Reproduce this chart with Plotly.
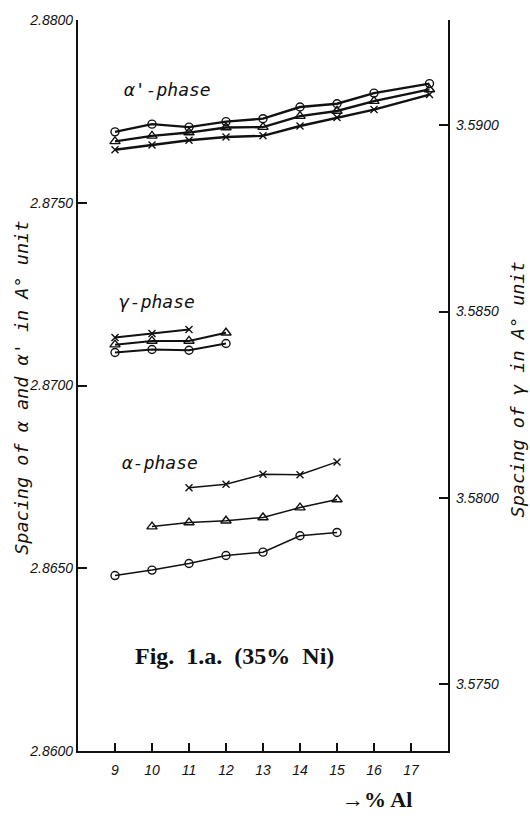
import plotly.graph_objects as go

# ---- data ----
al_ap = [9, 10, 11, 12, 13, 14, 15, 16, 17.5]
ap_circle = [2.87694, 2.87715, 2.87707, 2.87722, 2.87730, 2.87762, 2.87771, 2.87800, 2.87826]
ap_tri = [2.87668, 2.87683, 2.87692, 2.87706, 2.87707, 2.87737, 2.87751, 2.87778, 2.87810]
ap_cross = [2.87645, 2.87658, 2.87671, 2.87680, 2.87683, 2.87710, 2.87733, 2.87755, 2.87796]

al_g_cross = [9, 10, 11]
g_cross = [3.58430, 3.58441, 3.58452]
al_g_tri = [9, 10, 11, 12]
g_tri = [3.58411, 3.58421, 3.58421, 3.58443]
al_g_circle = [9, 10, 11, 12]
g_circle = [3.58390, 3.58398, 3.58396, 3.58414]

al_a_cross = [11, 12, 13, 14, 15]
a_cross = [2.86720, 2.86730, 2.86757, 2.86756, 2.86791]
al_a_tri = [10, 11, 12, 13, 14, 15]
a_tri = [2.86614, 2.86625, 2.86630, 2.86639, 2.86666, 2.86688]
al_a_circle = [9, 10, 11, 12, 13, 14, 15]
a_circle = [2.86480, 2.86495, 2.86513, 2.86535, 2.86544, 2.86589, 2.86598]

x_ticks = [9, 10, 11, 12, 13, 14, 15, 16, 17]
left_ticks = [2.86, 2.865, 2.87, 2.875, 2.88]
right_ticks = [3.575, 3.58, 3.585, 3.59]

INK = "#111111"
MK = {
    "circle": dict(symbol="circle-open", size=8),
    "tri": dict(symbol="triangle-up-open", size=9),
    "cross": dict(symbol="x-thin-open", size=7),
}

fig = go.Figure()


def add(xs, ys, kind, width, axis="y"):
    m = MK[kind]
    fig.add_trace(go.Scatter(
        x=xs, y=ys, mode="lines+markers", yaxis=axis,
        line=dict(color=INK, width=width),
        marker=dict(symbol=m["symbol"], size=m["size"], color=INK,
                    line=dict(color=INK, width=1.4)),
        showlegend=False, hoverinfo="x+y"))


add(al_ap, ap_circle, "circle", 2.4)
add(al_ap, ap_tri, "tri", 2.4)
add(al_ap, ap_cross, "cross", 2.4)
add(al_g_cross, g_cross, "cross", 2.0, "y2")
add(al_g_tri, g_tri, "tri", 2.0, "y2")
add(al_g_circle, g_circle, "circle", 2.0, "y2")
add(al_a_cross, a_cross, "cross", 1.5)
add(al_a_tri, a_tri, "tri", 1.5)
add(al_a_circle, a_circle, "circle", 1.5)

tickfont = dict(family="Liberation Sans", size=14, color=INK, style="italic")
mono = dict(family="DejaVu Sans Mono", size=18, color=INK, style="italic")

fig.update_layout(
    width=530, height=828,
    margin=dict(l=78, r=82, t=15, b=77),
    paper_bgcolor="white", plot_bgcolor="white",
    xaxis=dict(range=[8, 18], tickvals=x_ticks, ticktext=[str(v) for v in x_ticks],
               ticks="inside", ticklen=8, tickwidth=1.5, tickcolor=INK,
               showline=True, linecolor=INK, linewidth=2, showgrid=False,
               zeroline=False, tickfont=tickfont, ticklabelstandoff=5),
    yaxis=dict(range=[2.86, 2.88], tickvals=left_ticks, tickformat=".4f",
               ticks="inside", ticklen=9, tickwidth=1.5, tickcolor=INK,
               showline=True, linecolor=INK, linewidth=2.2, showgrid=False,
               zeroline=False, tickfont=tickfont),
    yaxis2=dict(range=[3.5732, 3.592827], tickvals=right_ticks, tickformat=".4f",
                overlaying="y", side="right", anchor="x",
                ticks="inside", ticklen=9, tickwidth=1.5, tickcolor=INK,
                showline=True, linecolor=INK, linewidth=2.2, showgrid=False,
                zeroline=False, tickfont=tickfont, ticklabelstandoff=3),
)

annots = [
    dict(text="α'-phase", x=0.119, y=0.905, xanchor="left", font=mono),
    dict(text="γ-phase", x=0.105, y=0.6155, xanchor="left", font=mono),
    dict(text="α-phase", x=0.1135, y=0.394, xanchor="left", font=mono),
    dict(text="Fig.  1.a.  (35%  Ni)", x=0.423, y=0.130, xanchor="center",
         font=dict(family="Liberation Serif", size=24, color=INK, weight="bold")),
    dict(text="→% Al", x=0.807, y=-0.0666, xanchor="center",
         font=dict(family="Liberation Serif", size=22, color=INK, weight="bold")),
    dict(text="Spacing of α and α' in A° unit", x=-0.151, y=0.497, textangle=-90,
         xanchor="center", font=dict(family="DejaVu Sans Mono", size=18.5, color=INK, style="italic")),
    dict(text="Spacing of γ in A° unit", x=1.1865, y=0.4946, textangle=-90,
         xanchor="center", font=dict(family="DejaVu Sans Mono", size=18.5, color=INK, style="italic")),
]
for a in annots:
    fig.add_annotation(xref="paper", yref="paper", showarrow=False, yanchor="middle", **a)

fig.write_html("out.html")
